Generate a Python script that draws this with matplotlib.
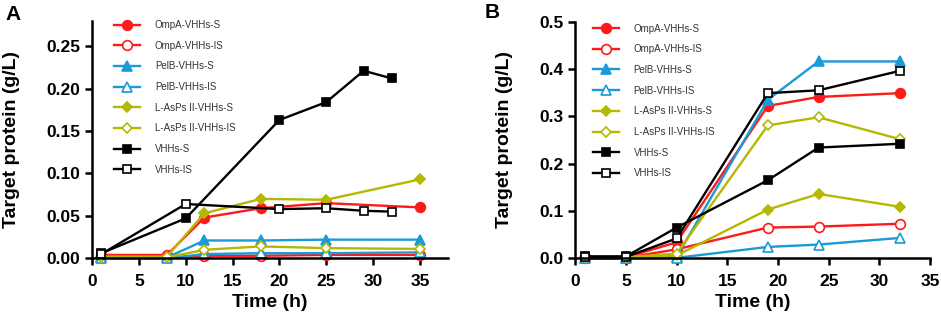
import matplotlib
matplotlib.use("Agg")
import matplotlib.pyplot as plt

plt.rcParams["font.family"] = ["Liberation Sans", "DejaVu Sans"]

labels = ["OmpA-VHHs-S", "OmpA-VHHs-IS", "PelB-VHHs-S", "PelB-VHHs-IS",
          "L-AsPs II-VHHs-S", "L-AsPs II-VHHs-IS", "VHHs-S", "VHHs-IS"]

# panel A
time_a = [1, 8, 12, 18, 25, 35]
time_a_vhh = [1, 10, 20, 25, 29, 32]
ompa_s_a = [0.004, 0.004, 0.048, 0.059, 0.065, 0.060]
ompa_is_a = [0.001, 0.001, 0.003, 0.003, 0.004, 0.004]
pelb_s_a = [0.001, 0.001, 0.021, 0.021, 0.022, 0.022]
pelb_is_a = [0.000, 0.000, 0.005, 0.006, 0.006, 0.007]
lasp_s_a = [0.002, 0.002, 0.053, 0.070, 0.069, 0.093]
lasp_is_a = [0.001, 0.001, 0.010, 0.014, 0.012, 0.011]
vhh_s_a = [0.006, 0.047, 0.163, 0.184, 0.221, 0.212]
vhh_is_a = [0.005, 0.064, 0.058, 0.059, 0.056, 0.055]

# panel B
time_b = [1, 5, 10, 19, 24, 32]
ompa_s_b = [0.002, 0.002, 0.034, 0.322, 0.341, 0.349]
ompa_is_b = [0.001, 0.001, 0.019, 0.065, 0.067, 0.073]
pelb_s_b = [0.001, 0.001, 0.003, 0.335, 0.416, 0.416]
pelb_is_b = [0.000, 0.000, 0.001, 0.024, 0.029, 0.043]
lasp_s_b = [0.003, 0.003, 0.006, 0.103, 0.136, 0.109]
lasp_is_b = [0.002, 0.002, 0.010, 0.281, 0.298, 0.252]
vhh_s_b = [0.004, 0.004, 0.065, 0.165, 0.234, 0.242]
vhh_is_b = [0.003, 0.003, 0.042, 0.349, 0.355, 0.396]

red = "#ff1a1a"
blue = "#1a9ad6"
olive = "#b5b800"
black = "#000000"

styles = [
    (red, "o", True), (red, "o", False),
    (blue, "^", True), (blue, "^", False),
    (olive, "D", True), (olive, "D", False),
    (black, "s", True), (black, "s", False),
]


def draw(ax, xs_list, ys_list):
    for xs, ys, (c, m, filled), lab in zip(xs_list, ys_list, styles, labels):
        ms = 7 if m == "o" else (6.5 if m == "^" else (5.5 if m == "D" else 6))
        ax.plot(xs, ys, color=c, lw=1.7, marker=m, ms=ms,
                mfc=c if filled else "white", mec=c, mew=1.2, label=lab,
                clip_on=False)


fig = plt.figure(figsize=(9.41, 3.18), dpi=100)
ax1 = fig.add_axes([92 / 941, 1 - 258.3 / 318, 356 / 941, 237.6 / 318])
ax2 = fig.add_axes([575.3 / 941, 1 - 258.3 / 318, 354.7 / 941, 236.6 / 318])

draw(ax1, [time_a] * 6 + [time_a_vhh] * 2,
     [ompa_s_a, ompa_is_a, pelb_s_a, pelb_is_a, lasp_s_a, lasp_is_a, vhh_s_a, vhh_is_a])
draw(ax2, [time_b] * 8,
     [ompa_s_b, ompa_is_b, pelb_s_b, pelb_is_b, lasp_s_b, lasp_is_b, vhh_s_b, vhh_is_b])

ax1.set_xlim(0, 38)
ax1.set_ylim(0, 0.28)
ax1.set_xticks(range(0, 36, 5))
ax1.set_yticks([0, 0.05, 0.10, 0.15, 0.20, 0.25])
ax1.set_yticklabels(["0.00", "0.05", "0.10", "0.15", "0.20", "0.25"])

ax2.set_xlim(0, 35)
ax2.set_ylim(0, 0.5)
ax2.set_xticks(range(0, 36, 5))
ax2.set_yticks([0, 0.1, 0.2, 0.3, 0.4, 0.5])
ax2.set_yticklabels(["0.0", "0.1", "0.2", "0.3", "0.4", "0.5"])

for ax, anchor in [(ax1, (114 / 941, 1 - 20 / 318)), (ax2, (592.7 / 941, 1 - 23.5 / 318))]:
    for s in ["top", "right"]:
        ax.spines[s].set_visible(False)
    for s in ["left", "bottom"]:
        ax.spines[s].set_linewidth(1.8)
    ax.tick_params(width=1.8, length=5, labelsize=12.5)
    ax.tick_params(axis="x", pad=6)
    for t in ax.get_xticklabels() + ax.get_yticklabels():
        t.set_fontweight("bold")
    ax.set_xlabel("Time (h)", fontsize=14, fontweight="bold", labelpad=4)
    ax.set_ylabel("Target protein (g/L)", fontsize=14, fontweight="bold", labelpad=19)
    leg = ax.legend(loc="upper left", bbox_to_anchor=anchor, bbox_transform=fig.transFigure,
                    frameon=False, fontsize=7, labelspacing=1.1, handlelength=2.7,
                    handletextpad=1.5, borderpad=0, borderaxespad=0)
    for t in leg.get_texts():
        t.set_color("#333333")

fig.text(5 / 941, 1 - 5 / 318, "A", fontsize=15, fontweight="bold", va="top")
fig.text(485 / 941, 1 - 3 / 318, "B", fontsize=15, fontweight="bold", va="top")

fig.savefig("out.png", dpi=100)
